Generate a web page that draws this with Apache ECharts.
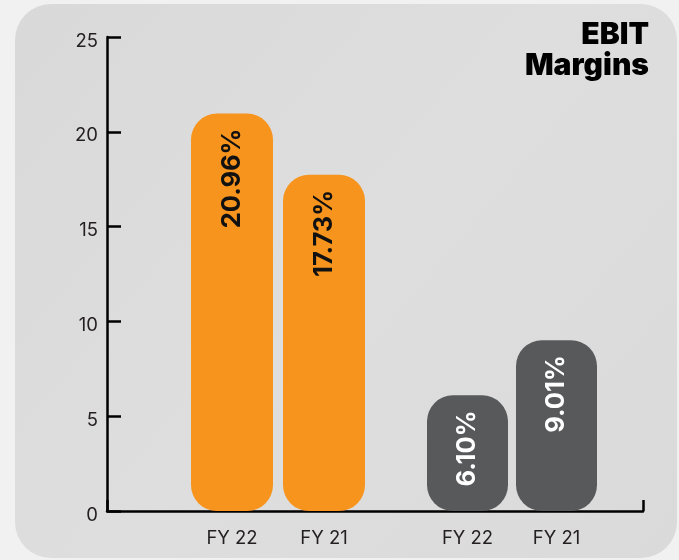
<!DOCTYPE html>
<html>
<head>
<meta charset="utf-8">
<script src="https://cdn.jsdelivr.net/npm/echarts@6/dist/echarts.min.js"></script>
<style>
html,body{margin:0;padding:0;background:#f1f1f1;}
#chart{width:679px;height:560px;}
</style>
</head>
<body>
<div id="chart"></div>
<script>
// ---- data ----
const titleText = 'EBIT\nMargins';
const yTicks = [0, 5, 10, 15, 20, 25];
const groupACategories = ['FY 22', 'FY 21'];
const groupAValues = [20.96, 17.73];
const groupBCategories = ['FY 22', 'FY 21'];
const groupBValues = [6.10, 9.01];

const FONT = 'Inter, "Noto Sans", sans-serif';
const yMin = yTicks[0], yMax = yTicks[yTicks.length - 1], yStep = yTicks[1] - yTicks[0];

const chart = echarts.init(document.getElementById('chart'), null, {renderer: 'canvas'});

function hiddenY() {
  return {type: 'value', min: yMin, max: yMax, interval: yStep, show: false};
}
function catX(gridIndex, cats) {
  return {
    type: 'category', gridIndex: gridIndex, data: cats,
    axisLine: {show: false}, axisTick: {show: false}, splitLine: {show: false},
    axisLabel: {color: '#231f20', fontSize: 18.5, fontFamily: FONT, margin: 18}
  };
}
function barSeries(idx, values, color, labelColor, width) {
  return {
    type: 'bar', xAxisIndex: idx, yAxisIndex: idx, data: values,
    barWidth: width,
    itemStyle: {color: color, borderRadius: 26},
    label: {
      show: true, position: 'insideTop', rotate: 90, distance: 15,
      align: 'right', verticalAlign: 'middle',
      color: labelColor, fontSize: 25.5, fontWeight: 'bold', fontFamily: FONT,
      formatter: p => p.value.toFixed(2) + '%'
    },
    z: 3
  };
}

const option = {
  backgroundColor: '#f1f1f1',
  animation: false,
  graphic: {
    elements: [{
      type: 'rect', z: -100, silent: true,
      shape: {x: 15, y: 4, width: 662, height: 554, r: 36},
      style: {
        fill: new echarts.graphic.LinearGradient(0, 0, 1, 1, [
          {offset: 0, color: '#d9d9d9'},
          {offset: 0.5, color: '#dedede'},
          {offset: 1, color: '#dadada'}
        ])
      }
    }, {
      type: 'text', z: 10, silent: true,
      style: {
        text: titleText, x: 649, y: 19, align: 'right',
        font: '900 30px ' + FONT, lineHeight: 31, fill: '#000'
      }
    }]
  },
  grid: [
    {left: 107, right: 36, top: 37, bottom: 49},
    {left: 186, width: 184, top: 37, bottom: 49},
    {left: 423, width: 178, top: 37, bottom: 49}
  ],
  xAxis: [
    {
      type: 'value', gridIndex: 0, min: 0, max: 1, interval: 1,
      axisLine: {show: true, lineStyle: {color: '#000', width: 2.5}},
      axisTick: {show: true, inside: true, length: 11, lineStyle: {color: '#000', width: 2.5}},
      axisLabel: {show: false}, splitLine: {show: false}
    },
    catX(1, groupACategories),
    catX(2, groupBCategories)
  ],
  yAxis: [
    {
      type: 'value', gridIndex: 0, min: yMin, max: yMax, interval: yStep,
      axisLine: {show: true, lineStyle: {color: '#000', width: 2.5}},
      axisTick: {show: true, inside: true, length: 14, lineStyle: {color: '#000', width: 2.5}},
      axisLabel: {color: '#231f20', fontSize: 18.5, fontFamily: FONT, margin: 9, verticalAlign: 'top', lineHeight: 8},
      splitLine: {show: false}
    },
    Object.assign(hiddenY(), {gridIndex: 1}),
    Object.assign(hiddenY(), {gridIndex: 2})
  ],
  series: [
    barSeries(1, groupAValues, '#f7941d', '#111', 82),
    barSeries(2, groupBValues, '#58595b', '#ffffff', 81)
  ]
};
chart.setOption(option);
</script>
</body>
</html>
